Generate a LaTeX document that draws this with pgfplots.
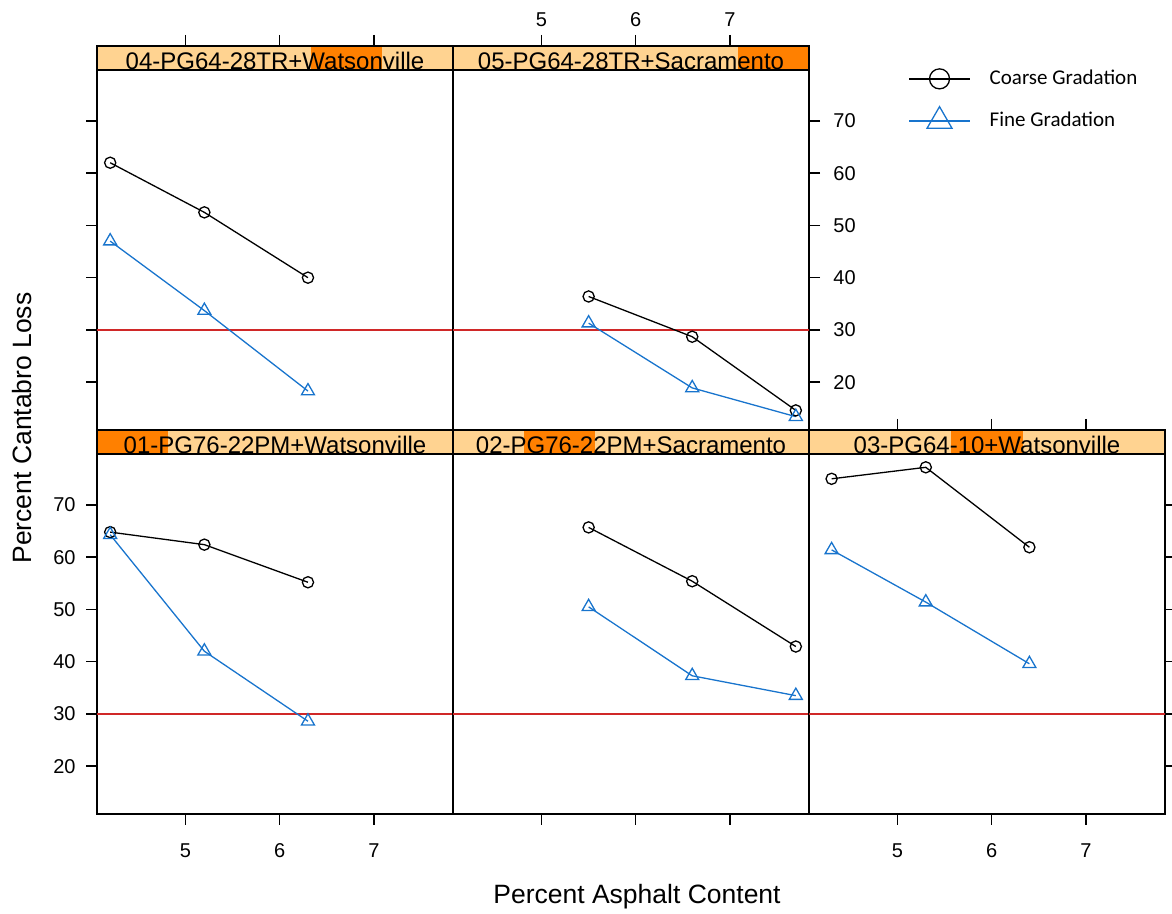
\documentclass[border=0pt]{standalone}
\usepackage{pgfplots}
\pgfplotsset{compat=1.18}
\usepackage{fontspec}
\setmainfont{Liberation Sans}
\newfontfamily\legendfont{Carlito}
\definecolor{stripbg}{RGB}{255,211,145}
\definecolor{stripfg}{RGB}{255,128,0}
\definecolor{fineblue}{RGB}{24,116,205}
\definecolor{refred}{RGB}{208,40,40}

\pgfplotsset{
  common/.style={
    scale only axis, width=178pt,
    xmin=4.06, xmax=7.84,
    tick align=outside, major tick length=5.5pt,
    axis line style={line width=0.9pt},
    every tick/.style={black, line width=0.7pt},
    /pgf/number format/assume math mode=true,
    tick label style={font=\fontsize{10}{12}\selectfont, inner sep=0pt},
    clip=false,
  },
  panel/.style={common, height=180pt,
    ymin=10.85, ymax=79.75,
    xtick={5,6,7}, ytick={20,30,40,50,60,70},
    xticklabel style={yshift=-9pt},
    yticklabel style={xshift=-5pt},
  },
  strip/.style={common, height=12pt, ymin=0, ymax=1, ytick=\empty,
    xtick={5,6,7}, xtick pos=right, axis on top,
    xticklabel style={yshift=4pt},
  },
  coarse/.style={black, line width=0.65pt, mark=o, mark size=2.8pt, mark options={solid, line width=0.65pt}},
  fine/.style={fineblue, line width=0.65pt, mark=triangle, mark size=3.75pt, mark options={solid, line width=0.65pt}},
  ref/.style={refred, line width=0.8pt, forget plot},
}
\newcommand{\striptext}[1]{\node[anchor=base, inner sep=0pt, font=\fontsize{12}{14}\selectfont] at (rel axis cs:0.5,0.0) {#1};}

\begin{document}
\begin{tikzpicture}
\useasboundingbox (0,0) rectangle (586pt,457pt);

% ---------- bottom row ----------
% 01
\begin{axis}[panel, at={(48.5pt,50pt)}, anchor=south west,
  xtick pos=left, ytick pos=left]
  \addplot[ref] coordinates {(4.06,30) (7.84,30)};
  \addplot[coarse] coordinates {(4.2,64.8) (5.2,62.4) (6.3,55.2)};
  \addplot[fine] coordinates {(4.2,64.3) (5.2,42.0) (6.3,28.6)};
\end{axis}
\begin{axis}[strip, at={(48.5pt,230pt)}, anchor=south west, xtick=\empty]
  \fill[stripbg] (rel axis cs:0,0) rectangle (rel axis cs:1,1);
  \fill[stripfg] (rel axis cs:0,0) rectangle (rel axis cs:0.2,1);
  \striptext{01-PG76-22PM+Watsonville}
\end{axis}
% 02
\begin{axis}[panel, at={(226.5pt,50pt)}, anchor=south west,
  xtick pos=left, ytick=\empty, xticklabels={,,}]
  \addplot[ref] coordinates {(4.06,30) (7.84,30)};
  \addplot[coarse] coordinates {(5.5,65.7) (6.6,55.4) (7.7,42.9)};
  \addplot[fine] coordinates {(5.5,50.5) (6.6,37.3) (7.7,33.5)};
\end{axis}
\begin{axis}[strip, at={(226.5pt,230pt)}, anchor=south west, xtick=\empty]
  \fill[stripbg] (rel axis cs:0,0) rectangle (rel axis cs:1,1);
  \fill[stripfg] (rel axis cs:0.2,0) rectangle (rel axis cs:0.4,1);
  \striptext{02-PG76-22PM+Sacramento}
\end{axis}
% 03
\begin{axis}[panel, at={(404.5pt,50pt)}, anchor=south west,
  xtick pos=left, ytick pos=right, yticklabels={,,,,,}]
  \addplot[ref] coordinates {(4.06,30) (7.84,30)};
  \addplot[coarse] coordinates {(4.3,75.0) (5.3,77.2) (6.4,61.9)};
  \addplot[fine] coordinates {(4.3,61.4) (5.3,51.4) (6.4,39.6)};
\end{axis}
\begin{axis}[strip, at={(404.5pt,230pt)}, anchor=south west, xticklabels={,,}]
  \fill[stripbg] (rel axis cs:0,0) rectangle (rel axis cs:1,1);
  \fill[stripfg] (rel axis cs:0.4,0) rectangle (rel axis cs:0.6,1);
  \striptext{03-PG64-10+Watsonville}
\end{axis}

% ---------- top row ----------
% 04
\begin{axis}[panel, at={(48.5pt,242pt)}, anchor=south west,
  xtick=\empty, ytick pos=left, yticklabels={,,,,,}]
  \addplot[ref] coordinates {(4.06,30) (7.84,30)};
  \addplot[coarse] coordinates {(4.2,62.0) (5.2,52.5) (6.3,40.0)};
  \addplot[fine] coordinates {(4.2,47.0) (5.2,33.7) (6.3,18.3)};
\end{axis}
\begin{axis}[strip, at={(48.5pt,422pt)}, anchor=south west, xticklabels={,,}]
  \fill[stripbg] (rel axis cs:0,0) rectangle (rel axis cs:1,1);
  \fill[stripfg] (rel axis cs:0.6,0) rectangle (rel axis cs:0.8,1);
  \striptext{04-PG64-28TR+Watsonville}
\end{axis}
% 05
\begin{axis}[panel, at={(226.5pt,242pt)}, anchor=south west,
  xtick=\empty, ytick pos=right, yticklabel style={xshift=11.5pt},
  legend style={at={(axis description cs:1.278,1.012)}, anchor=north west,
    draw=none, fill=none, inner sep=0pt, row sep=7.5pt,
    font=\legendfont\fontsize{10.5}{12.6}\selectfont},
  legend cell align=left,
  legend image code/.code={\draw[mark repeat=2, mark phase=2, #1] plot coordinates {(0pt,0pt) (15.25pt,0pt) (30.5pt,0pt)};}]
  \addplot[ref] coordinates {(4.06,30) (7.84,30)};
  \addplot[coarse, legend image post style={mark size=5pt}] coordinates {(5.5,36.4) (6.6,28.7) (7.7,14.6)};
  \addlegendentry{\hspace*{7.5pt}Coarse Gradation}
  \addplot[fine, legend image post style={mark size=7.2pt}] coordinates {(5.5,31.3) (6.6,18.9) (7.7,13.4)};
  \addlegendentry{\hspace*{7.5pt}Fine Gradation}
\end{axis}
\begin{axis}[strip, at={(226.5pt,422pt)}, anchor=south west]
  \fill[stripbg] (rel axis cs:0,0) rectangle (rel axis cs:1,1);
  \fill[stripfg] (rel axis cs:0.8,0) rectangle (rel axis cs:1,1);
  \striptext{05-PG64-28TR+Sacramento}
\end{axis}

% axis titles
\node[rotate=90, font=\fontsize{13.25}{16}\selectfont] at (11pt,243pt) {Percent Cantabro Loss};
\node[font=\fontsize{13.25}{16}\selectfont] at (318.5pt,8.5pt) {Percent Asphalt Content};
\end{tikzpicture}
\end{document}
